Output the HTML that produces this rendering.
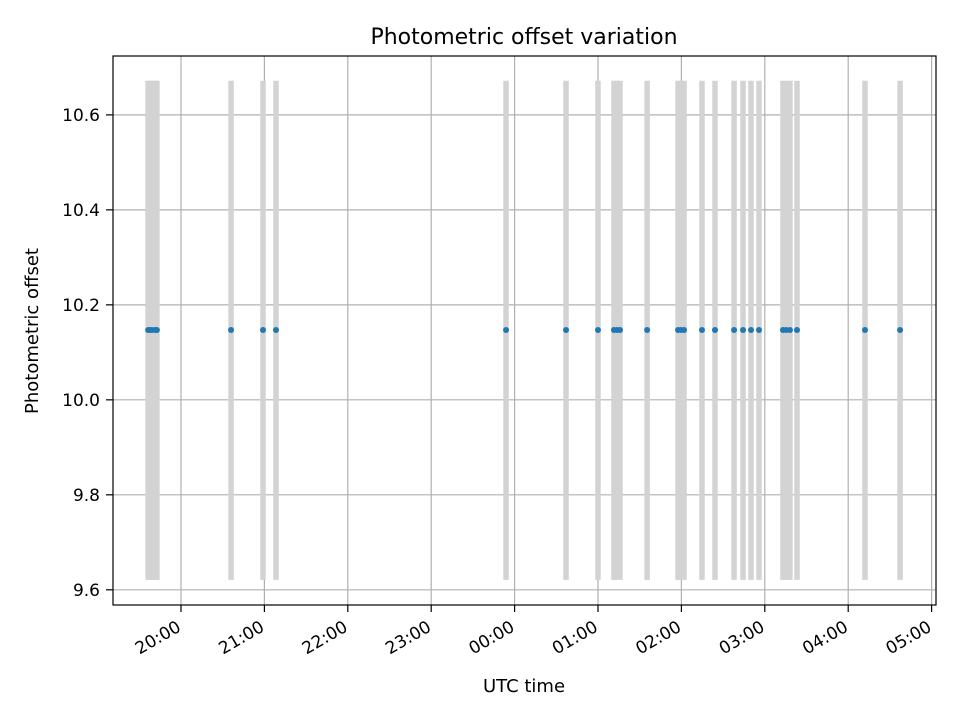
<!DOCTYPE html>
<html><head><meta charset="utf-8"><style>
body{margin:0;background:#fff}
svg text{font-family:"DejaVu Sans","Liberation Sans",sans-serif;fill:#000}
</style></head><body>
<svg id="chart" width="960" height="720">
<rect width="960" height="720" fill="#fff"/>
<g id="grid"></g><g id="marks"></g>
<rect x="113" y="56" width="823" height="549" fill="none" stroke="#000" stroke-width="1.2"/>
<g id="axes"></g>
<text x="524" y="44" text-anchor="middle" font-size="22">Photometric offset variation</text>
<text x="524" y="692" text-anchor="middle" font-size="18">UTC time</text>
<text transform="translate(38,331) rotate(-90)" text-anchor="middle" font-size="18">Photometric offset</text>
</svg>
<script>
const times = ["19:36:20","19:37:40","19:39:05","19:41:20","19:42:40","20:36:00","20:59:00","21:08:20","23:53:50","00:37:00","01:00:00","01:11:30","01:13:40","01:15:50","01:35:20","01:57:35","01:59:40","02:01:55","02:14:50","02:24:10","02:37:55","02:44:20","02:50:05","02:55:50","03:13:05","03:15:20","03:18:05","03:23:10","04:12:05","04:37:20"];
const offsets = [10.147,10.147,10.147,10.147,10.147,10.147,10.147,10.147,10.147,10.147,10.147,10.147,10.147,10.147,10.147,10.147,10.147,10.147,10.147,10.147,10.147,10.147,10.147,10.147,10.147,10.147,10.147,10.147,10.147,10.147];
const yTicks = [9.6,9.8,10.0,10.2,10.4,10.6];
const yTickLabels = ["9.6","9.8","10.0","10.2","10.4","10.6"];
const xTickLabels = ["20:00","21:00","22:00","23:00","00:00","01:00","02:00","03:00","04:00","05:00"];
const spanMin = 9.621, spanMax = 10.672;

const NS="http://www.w3.org/2000/svg";
const X0=113,X1=936,Y0=605,Y1=56;
const xMin=-0.8153, xMax=9.0528; // hours after 20:00
const yMin=9.568, yMax=10.724;
function hrs(s){const p=s.split(":").map(Number);let h=p[0]+p[1]/60+(p[2]||0)/3600;if(h<12)h+=24;return h-20;}
function xs(h){return X0+(h-xMin)/(xMax-xMin)*(X1-X0);}
function ys(v){return Y0-(v-yMin)/(yMax-yMin)*(Y0-Y1);}
function mk(tag,at,parent){const e=document.createElementNS(NS,tag);for(const k in at)e.setAttribute(k,at[k]);parent.appendChild(e);return e;}
const grid=document.getElementById('grid'),marks=document.getElementById('marks'),axes=document.getElementById('axes');
yTicks.forEach((v,i)=>{const y=ys(v);
 const g=mk('line',{x1:X0,x2:X1,y1:y,y2:y,stroke:'#b0b0b0','stroke-width':1.2},grid);
 
 
 const t=mk('line',{x1:X0-7,x2:X0,y1:y,y2:y,stroke:'#000','stroke-width':1.2},axes);
 
 
 const l=mk('text',{x:X0-13,y:y+6,'text-anchor':'end','font-size':17},axes);l.textContent=yTickLabels[i];
 
 
});
xTickLabels.forEach((s,i)=>{const x=xs(hrs(s));
 const g=mk('line',{x1:x,x2:x,y1:Y1,y2:Y0,stroke:'#b0b0b0','stroke-width':1.2},grid);
 
 
 const t=mk('line',{x1:x,x2:x,y1:Y0,y2:Y0+7,stroke:'#000','stroke-width':1.2},axes);
 
 
 const ax=x-2, ay=631;
 const l=mk('text',{x:ax,y:ay,'text-anchor':'end','font-size':17,transform:`rotate(-30 ${ax} ${ay-6})`},axes);l.textContent=s;
 
 
});
times.forEach(s=>{const x=xs(hrs(s));
 const b=mk('line',{x1:x,x2:x,y1:ys(spanMax),y2:ys(spanMin),stroke:'#d3d3d3','stroke-width':5.5},marks);
 
 
});
times.forEach((s,i)=>{const c=mk('circle',{cx:xs(hrs(s)),cy:ys(offsets[i]),r:3,fill:'#1f77b4'},marks);
 
 
});
</script>
</body></html>
